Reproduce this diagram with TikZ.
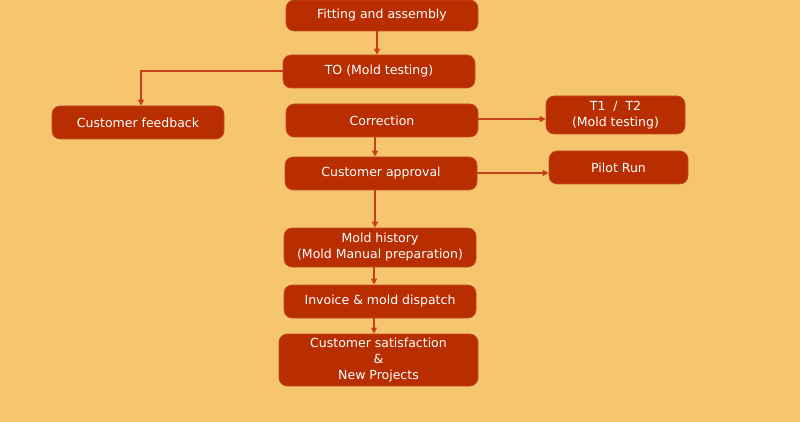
\documentclass[tikz,border=0pt]{standalone}
\usepackage{fontspec}
\setmainfont{DejaVu Sans}
\usetikzlibrary{arrows.meta}
\definecolor{bg}{RGB}{246,198,110}
\definecolor{boxc}{RGB}{184,46,0}
\definecolor{linec}{RGB}{200,64,26}
\tikzset{
  box/.style={fill=boxc, draw=boxc!85!white, line width=0.6pt, rounded corners=8pt, text=white, align=center,
    font=\fontsize{12.5}{16}\selectfont, inner sep=0pt},
  conn/.style={draw=linec, line width=1.2pt, -{Triangle[length=6pt,width=6pt]}}
}
\begin{document}
\begin{tikzpicture}[x=1pt,y=-1pt]
\useasboundingbox[fill=bg] (0,0) rectangle (800,422);
\node[box, minimum width=192pt, minimum height=31pt] (fit) at (382,15.5) {Fitting and assembly};
\node[box, minimum width=192pt, minimum height=33pt] (to) at (379,71.5) {TO (Mold testing)};
\node[box, minimum width=172pt, minimum height=33pt] (fb) at (138,122.5) {Customer feedback};
\node[box, minimum width=192pt, minimum height=33pt] (cor) at (382,120.5) {Correction};
\node[box, minimum width=139pt, minimum height=38pt] (t12) at (615.5,115) {T1~~/~~T2\\(Mold testing)};
\node[box, minimum width=192pt, minimum height=33pt] (app) at (381,173.5) {Customer approval};
\node[box, minimum width=139pt, minimum height=33pt] (pil) at (618.5,167.5) {Pilot Run};
\node[box, minimum width=192pt, minimum height=39pt] (hist) at (380,247.5) {Mold history\\(Mold Manual preparation)};
\node[box, minimum width=192pt, minimum height=33pt] (inv) at (380,301.5) {Invoice \& mold dispatch};
\node[box, minimum width=199pt, minimum height=52pt] (sat) at (378.5,360) {Customer satisfaction\\\&\\New Projects};
\coordinate (fbtop) at (141,104);
\draw[conn] (fit.south -| 377,0) -- (to.north -| 377,0);
\draw[conn] (to.west |- 0,71) -| (fb.north -| fbtop);
\draw[conn] (cor.east |- 0,119) -- (t12.west |- 0,119);
\draw[conn] (app.east |- 0,173) -- (pil.west |- 0,173);
\draw[conn] (cor.south -| 375,0) -- (app.north -| 375,0);
\draw[conn] (app.south -| 375,0) -- (hist.north -| 375,0);
\draw[conn] (hist.south -| 374,0) -- (inv.north -| 374,0);
\draw[conn] (inv.south -| 374,0) -- (sat.north -| 374,0);
\end{tikzpicture}
\end{document}
